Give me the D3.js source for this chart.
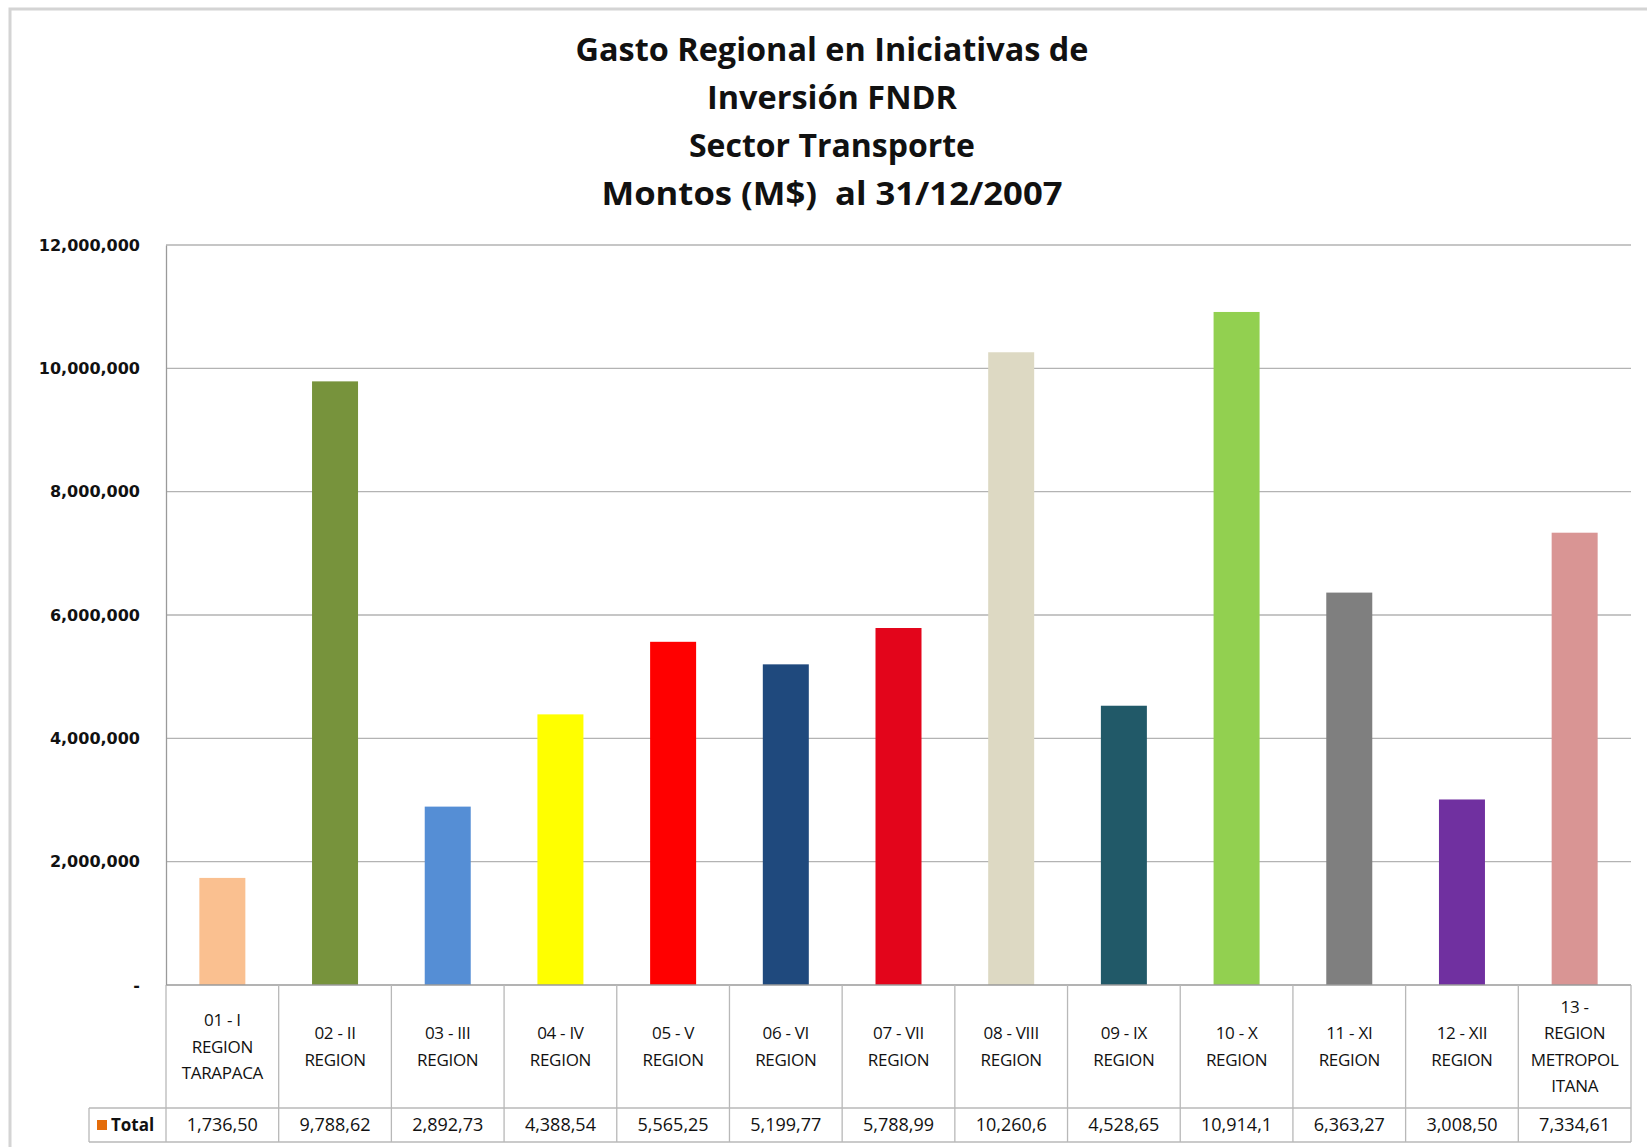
<!DOCTYPE html>
<html>
<head>
<meta charset="utf-8">
<script src="https://cdn.jsdelivr.net/npm/d3@7/dist/d3.min.js"></script>
<style>
  body { margin: 0; background: #fff; }
  svg { display: block; }
  text { font-family: "Liberation Sans Narrow", "Open Sans", sans-serif; fill: #111; }
</style>
</head>
<body>
<svg id="chart" width="1647" height="1147"></svg>
<script>
// chart data
const titleLines = ["Gasto Regional en Iniciativas de", "Inversión FNDR", "Sector Transporte", "Montos (M$)  al 31/12/2007"];
const categories = [
  ["01 - I", "REGION", "TARAPACA"],
  ["02 - II", "REGION"],
  ["03 - III", "REGION"],
  ["04 - IV", "REGION"],
  ["05 - V", "REGION"],
  ["06 - VI", "REGION"],
  ["07 - VII", "REGION"],
  ["08 - VIII", "REGION"],
  ["09 - IX", "REGION"],
  ["10 - X", "REGION"],
  ["11 - XI", "REGION"],
  ["12 - XII", "REGION"],
  ["13 -", "REGION", "METROPOL", "ITANA"]
];
const values = [1736500, 9788620, 2892730, 4388540, 5565250, 5199770, 5788990, 10260600, 4528650, 10914100, 6363270, 3008500, 7334610];
const tableLabels = ["1,736,50", "9,788,62", "2,892,73", "4,388,54", "5,565,25", "5,199,77", "5,788,99", "10,260,6", "4,528,65", "10,914,1", "6,363,27", "3,008,50", "7,334,61"];
const barColors = ["#FAC090", "#77933C", "#558ED5", "#FFFF00", "#FF0000", "#1F497D", "#E3051B", "#DDD9C3", "#215968", "#92D050", "#7F7F7F", "#7030A0", "#D99594"];
const yTicks = [0, 2000000, 4000000, 6000000, 8000000, 10000000, 12000000];
const seriesName = "Total";

const svg = d3.select("#chart");
const plotLeft = 166, plotRight = 1631, plotTop = 245, zeroY = 985;
const catRowBottom = 1108, totalRowBottom = 1142;

// outer frame (only top/left visible)
svg.append("path")
  .attr("d", "M10,1147 V9 H1647")
  .attr("fill", "none")
  .attr("stroke", "#d4d4d4")
  .attr("stroke-width", 3);

// title
const titleWidths = [513, 250, 286, 461];
svg.append("g").selectAll("text")
  .data(titleLines)
  .join("text")
  .attr("x", 832)
  .attr("y", (d, i) => 61 + i * 48)
  .attr("text-anchor", "middle")
  .attr("font-size", 33)
  .attr("font-weight", "bold")
  .style("white-space", "pre")
  .attr("textLength", (d, i) => titleWidths[i])
  .attr("lengthAdjust", "spacingAndGlyphs")
  .text(d => d);

const x = d3.scaleBand()
  .domain(d3.range(categories.length))
  .range([plotLeft, plotRight])
  .paddingInner(0)
  .paddingOuter(0);

const y = d3.scaleLinear()
  .domain([0, 12000000])
  .range([zeroY, plotTop]);

// gridlines
svg.append("g")
  .selectAll("line")
  .data(yTicks.filter(d => d > 0))
  .join("line")
  .attr("x1", plotLeft).attr("x2", plotRight)
  .attr("y1", d => y(d)).attr("y2", d => y(d))
  .attr("stroke", "#b3b3b3")
  .attr("stroke-width", 1.3);

// y axis
const yAxis = d3.axisLeft(y)
  .tickValues(yTicks)
  .tickSize(0)
  .tickPadding(26)
  .tickFormat(d => d === 0 ? "-" : d3.format(",")(d));

svg.append("g")
  .attr("transform", `translate(${plotLeft},0)`)
  .call(yAxis)
  .call(g => g.select(".domain").attr("stroke", "#9a9a9a").attr("stroke-width", 1.3))
  .selectAll("text")
  .style("font-family", "'DejaVu Sans', sans-serif")
  .attr("font-size", 16)
  .attr("font-weight", "bold")
  .attr("fill", "#2a2a2a");

// bars
const barW = 46;
svg.append("g")
  .selectAll("rect")
  .data(values)
  .join("rect")
  .attr("x", (d, i) => x(i) + x.bandwidth() / 2 - barW / 2)
  .attr("y", d => y(d))
  .attr("width", barW)
  .attr("height", d => y(0) - y(d))
  .attr("fill", (d, i) => barColors[i]);

// data table grid
const grid = svg.append("g").attr("stroke", "#b8b8b8").attr("stroke-width", 1.3);
grid.append("line").attr("x1", plotLeft).attr("x2", plotRight).attr("y1", zeroY).attr("y2", zeroY).attr("stroke", "#9a9a9a");
grid.append("line").attr("x1", 89).attr("x2", plotRight).attr("y1", catRowBottom).attr("y2", catRowBottom);
grid.append("line").attr("x1", 89).attr("x2", plotRight).attr("y1", totalRowBottom).attr("y2", totalRowBottom);
grid.append("line").attr("x1", 89).attr("x2", 89).attr("y1", catRowBottom).attr("y2", totalRowBottom);
grid.selectAll("line.v")
  .data(d3.range(categories.length + 1))
  .join("line")
  .attr("class", "v")
  .attr("x1", i => i < categories.length ? x(i) : plotRight)
  .attr("x2", i => i < categories.length ? x(i) : plotRight)
  .attr("y1", zeroY)
  .attr("y2", totalRowBottom);

// category labels
const lineH = 26.5;
const catMid = (zeroY + catRowBottom) / 2 + 6;
svg.append("g")
  .selectAll("text")
  .data(categories)
  .join("text")
  .attr("text-anchor", "middle")
  .attr("font-size", 17)
  .attr("letter-spacing", -0.3)
  .each(function (d, i) {
    const t = d3.select(this);
    const y0 = catMid - (d.length - 1) * lineH / 2;
    d.forEach((line, k) => {
      t.append("tspan")
        .attr("x", x(i) + x.bandwidth() / 2)
        .attr("y", y0 + k * lineH)
        .text(line);
    });
  });

// total row
const totalY = (catRowBottom + totalRowBottom) / 2 + 6;
svg.append("rect")
  .attr("x", 97).attr("y", totalY - 11)
  .attr("width", 10).attr("height", 10)
  .attr("fill", "#E46C0A");
svg.append("text")
  .attr("x", 111).attr("y", totalY)
  .attr("font-size", 17)
  .attr("font-weight", "bold")
  .text(seriesName);

svg.append("g")
  .selectAll("text")
  .data(tableLabels)
  .join("text")
  .attr("x", (d, i) => x(i) + x.bandwidth() / 2)
  .attr("y", totalY)
  .attr("text-anchor", "middle")
  .attr("font-size", 18)
  .text(d => d);
</script>
</body>
</html>
